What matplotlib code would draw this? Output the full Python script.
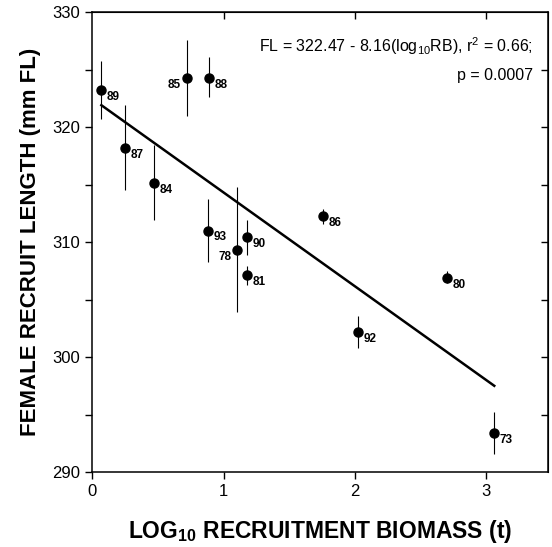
import matplotlib.pyplot as plt
import numpy as np

plt.rcParams['font.family'] = ['Liberation Sans', 'DejaVu Sans']
plt.rcParams['mathtext.fontset'] = 'custom'
plt.rcParams['mathtext.rm'] = 'Liberation Sans'
plt.rcParams['mathtext.bf'] = 'Liberation Sans:bold'

# log10 recruitment biomass, female recruit length, error bar ends, year label
years = ['89', '87', '84', '85', '88', '93', '78', '90', '81', '86', '92', '80', '73']
log_rb = [0.07, 0.25, 0.47, 0.72, 0.89, 0.88, 1.10, 1.18, 1.18, 1.76, 2.02, 2.70, 3.06]
length = [323.2, 318.2, 315.1, 324.3, 324.3, 311.0, 309.3, 310.4, 307.1, 312.3, 302.2, 306.9, 293.4]
err_hi = [325.7, 321.9, 318.4, 327.6, 326.1, 313.7, 314.8, 311.9, 307.9, 312.9, 303.6, 307.5, 295.2]
err_lo = [320.7, 314.5, 311.9, 321.0, 322.6, 308.3, 303.9, 308.9, 306.3, 311.6, 300.8, 306.4, 291.6]
left_labels = ['85', '78']

intercept = 322.47
slope = -8.16

x = np.array(log_rb)
y = np.array(length)
yerr = [y - np.array(err_lo), np.array(err_hi) - y]

fig = plt.figure(figsize=(5.52, 5.47), dpi=100)
ax = fig.add_axes([0.167, 0.137, 0.826, 0.841])

ax.errorbar(x, y, yerr=yerr, fmt='o', color='black', markersize=6.5,
            elinewidth=0.8, capsize=0)

xf = np.array([x.min(), x.max()])
ax.plot(xf, intercept + slope * xf, color='black', linewidth=1.8)

for xi, yi, lab in zip(x, y, years):
    if lab in left_labels:
        ax.annotate(lab, (xi, yi), xytext=(-4, -5), textcoords='offset points',
                    ha='right', va='center', fontsize=8.5, fontweight='bold')
    else:
        ax.annotate(lab, (xi, yi), xytext=(4, -5), textcoords='offset points',
                    ha='left', va='center', fontsize=8.5, fontweight='bold')

ax.text(0.966, 0.926, r'FL = 322.47 - 8.16(log$_{10}$RB), r$^2$ = 0.66;',
        transform=ax.transAxes, ha='right', va='center', fontsize=11.5)
ax.text(0.966, 0.863, 'p = 0.0007', transform=ax.transAxes,
        ha='right', va='center', fontsize=11.5)

ax.set_xlim(0, 3.47)
ax.set_ylim(290, 330)
ax.set_xticks([0, 1, 2, 3])
ax.set_yticks([290, 300, 310, 320, 330])
ax.set_yticks([295, 305, 315, 325], minor=True)
ax.tick_params(axis='both', which='both', direction='out', length=5, width=1,
               labelsize=12)

# inward ticks on top and right
top = ax.secondary_xaxis('top')
top.set_xticks([1, 2, 3])
top.tick_params(direction='in', length=5, width=1, labeltop=False)
right = ax.secondary_yaxis('right')
right.set_yticks([295, 300, 305, 310, 315, 320, 325])
right.tick_params(direction='in', length=5, width=1, labelright=False)

for sp in ax.spines.values():
    sp.set_linewidth(1.1)

ax.set_xlabel(r'LOG$_{\mathbf{10}}$ RECRUITMENT BIOMASS (t)', fontsize=16.5,
              fontweight='bold', labelpad=14)
ax.set_ylabel('FEMALE RECRUIT LENGTH (mm FL)', fontsize=16,
              fontweight='bold', labelpad=8)

fig.savefig('out.png', dpi=100)
